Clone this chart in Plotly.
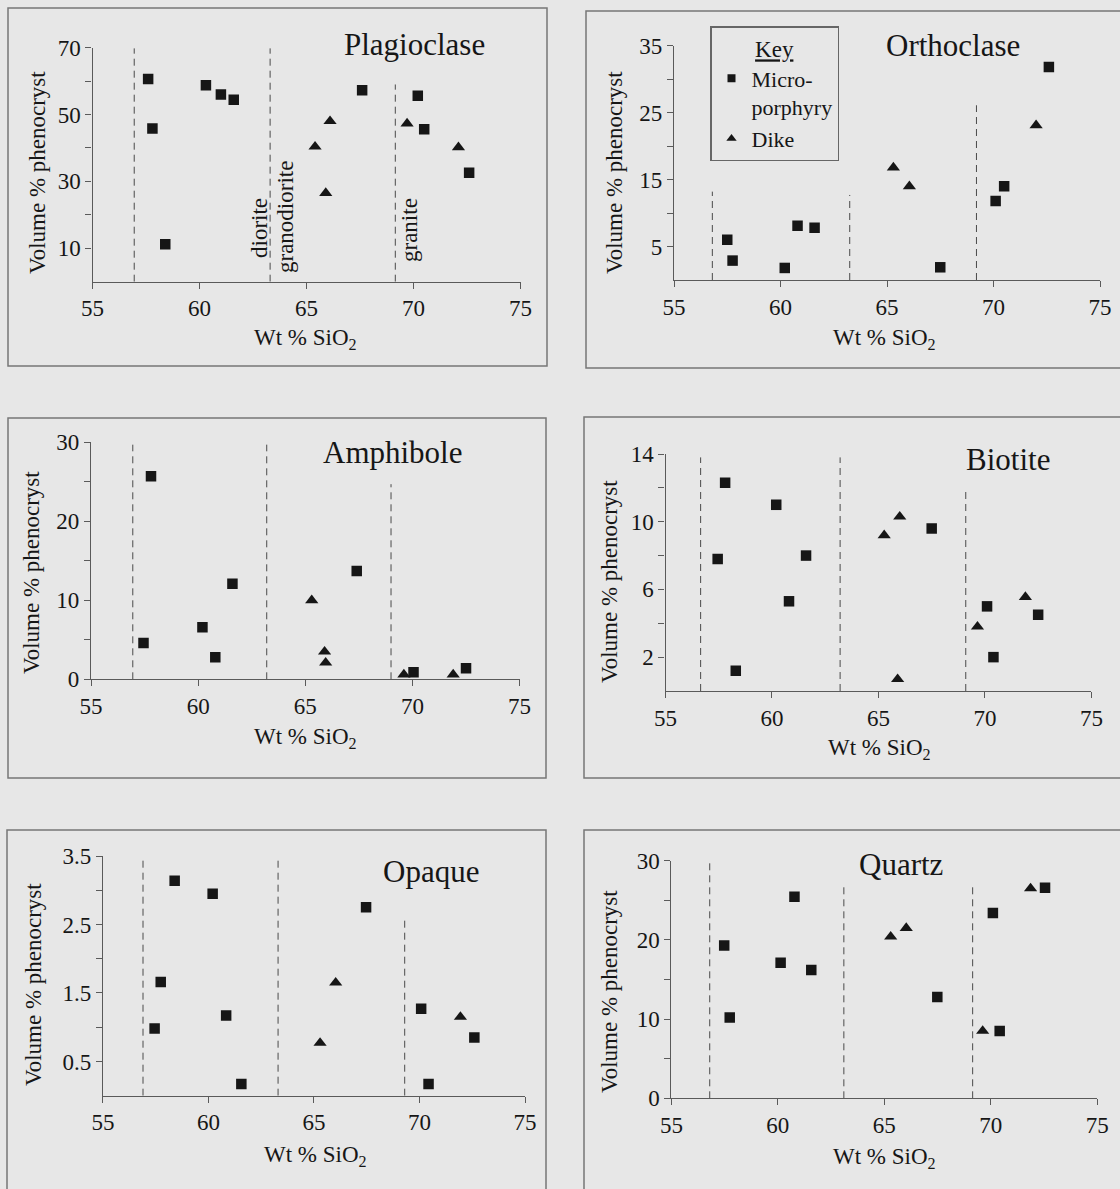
import plotly.graph_objects as go

W, H = 1120, 1189
FONT = "Liberation Serif"
INK = "#161616"
AXC = "#5a5a5a"
BG = "#e7e7e7"

# ---------------- data ----------------
plag_micro_sio2 = [57.6, 57.8, 58.4, 60.3, 61.0, 61.6, 67.6, 70.2, 70.5, 72.6]
plag_micro_vol = [60.6, 45.8, 11.2, 58.8, 56.0, 54.4, 57.3, 55.6, 45.6, 32.6]
plag_dike_sio2 = [65.4, 66.1, 65.9, 69.7, 72.1]
plag_dike_vol = [40.4, 48.0, 26.5, 47.3, 40.2]

orth_micro_sio2 = [57.5, 57.75, 60.2, 60.8, 61.6, 67.5, 70.1, 70.5, 72.6]
orth_micro_vol = [6.0, 2.9, 1.8, 8.1, 7.8, 1.9, 11.8, 14.0, 31.8]
orth_dike_sio2 = [65.3, 66.05, 72.0]
orth_dike_vol = [16.8, 14.0, 23.1]

amph_micro_sio2 = [57.45, 57.8, 60.2, 60.8, 61.6, 67.4, 70.05, 72.5]
amph_micro_vol = [4.6, 25.7, 6.6, 2.8, 12.1, 13.7, 0.9, 1.4]
amph_dike_sio2 = [65.3, 65.9, 65.95, 69.6, 71.9]
amph_dike_vol = [10.0, 3.5, 2.1, 0.6, 0.6]

biot_micro_sio2 = [57.45, 57.8, 58.3, 60.2, 60.8, 61.6, 67.5, 70.1, 70.4, 72.5]
biot_micro_vol = [7.8, 12.3, 1.2, 11.0, 5.3, 8.0, 9.6, 5.0, 2.0, 4.5]
biot_dike_sio2 = [65.27, 66.0, 65.9, 69.65, 71.9]
biot_dike_vol = [9.2, 10.3, 0.7, 3.8, 5.55]

opaq_micro_sio2 = [57.45, 57.74, 58.4, 60.2, 60.84, 61.56, 67.47, 70.08, 70.43, 72.6]
opaq_micro_vol = [0.98, 1.66, 3.14, 2.95, 1.17, 0.17, 2.75, 1.27, 0.17, 0.85]
opaq_dike_sio2 = [65.29, 66.03, 71.94]
opaq_dike_vol = [0.77, 1.65, 1.15]

qtz_micro_sio2 = [57.48, 57.74, 60.13, 60.78, 61.57, 67.49, 70.1, 70.42, 72.55]
qtz_micro_vol = [19.3, 10.2, 17.1, 25.45, 16.2, 12.8, 23.4, 8.5, 26.6]
qtz_dike_sio2 = [65.3, 66.03, 69.62, 71.87]
qtz_dike_vol = [20.4, 21.5, 8.5, 26.5]

# rock-type boundaries (dashed lines) and their top ends
plag_bounds = [56.95, 63.3, 69.15]
plag_bound_tops = [69.8, 69.8, 59.0]
orth_bounds = [56.8, 63.25, 69.2]
orth_bound_tops = [13.2, 12.7, 26.1]
amph_bounds = [56.95, 63.2, 69.0]
amph_bound_tops = [29.7, 29.7, 24.7]
biot_bounds = [56.65, 63.2, 69.1]
biot_bound_tops = [13.8, 13.8, 11.8]
opaq_bounds = [56.9, 63.3, 69.3]
opaq_bound_tops = [3.44, 3.45, 2.6]
qtz_bounds = [56.8, 63.1, 69.15]
qtz_bound_tops = [29.9, 27.1, 27.1]

x_ticks = [55, 60, 65, 70, 75]
plag_yticks = [10, 30, 50, 70]
plag_yminor = [20, 40, 60]
orth_yticks = [5, 15, 25, 35]
orth_yminor = [10, 20, 30]
amph_yticks = [0, 10, 20, 30]
amph_yminor = [5, 15, 25]
biot_yticks = [2, 6, 10, 14]
biot_yminor = [4, 8, 12]
opaq_yticks = [0.5, 1.5, 2.5, 3.5]
opaq_yminor = [1.0, 2.0, 3.0]
qtz_yticks = [0, 10, 20, 30]
qtz_yminor = [5, 15, 25]

minerals = ["Plagioclase", "Orthoclase", "Amphibole", "Biotite", "Opaque", "Quartz"]
region_names = ["diorite", "granodiorite", "granite"]

panels = [
    dict(name=minerals[0], mx=plag_micro_sio2, my=plag_micro_vol, dx=plag_dike_sio2, dy=plag_dike_vol,
         bounds=plag_bounds, tops=plag_bound_tops, yt=plag_yticks, ym=plag_yminor),
    dict(name=minerals[1], mx=orth_micro_sio2, my=orth_micro_vol, dx=orth_dike_sio2, dy=orth_dike_vol,
         bounds=orth_bounds, tops=orth_bound_tops, yt=orth_yticks, ym=orth_yminor),
    dict(name=minerals[2], mx=amph_micro_sio2, my=amph_micro_vol, dx=amph_dike_sio2, dy=amph_dike_vol,
         bounds=amph_bounds, tops=amph_bound_tops, yt=amph_yticks, ym=amph_yminor),
    dict(name=minerals[3], mx=biot_micro_sio2, my=biot_micro_vol, dx=biot_dike_sio2, dy=biot_dike_vol,
         bounds=biot_bounds, tops=biot_bound_tops, yt=biot_yticks, ym=biot_yminor),
    dict(name=minerals[4], mx=opaq_micro_sio2, my=opaq_micro_vol, dx=opaq_dike_sio2, dy=opaq_dike_vol,
         bounds=opaq_bounds, tops=opaq_bound_tops, yt=opaq_yticks, ym=opaq_yminor),
    dict(name=minerals[5], mx=qtz_micro_sio2, my=qtz_micro_vol, dx=qtz_dike_sio2, dy=qtz_dike_vol,
         bounds=qtz_bounds, tops=qtz_bound_tops, yt=qtz_yticks, ym=qtz_yminor),
]

# ---------------- layout geometry (pixels) ----------------
areas = [
    (92.5, 520.5, 47.7, 281.7),
    (674.0, 1100.0, 45.7, 280.0),
    (91.0, 519.6, 442.3, 679.3),
    (665.5, 1091.4, 454.0, 691.0),
    (102.9, 525.0, 856.0, 1095.7),
    (671.4, 1097.2, 860.7, 1098.3),
]
boxes = [
    (8, 8, 547, 366),
    (586, 11, 1125, 368),
    (8, 418, 546, 778),
    (584, 417, 1125, 778),
    (7, 830, 546, 1200),
    (584, 830, 1125, 1200),
]
ytitle_pos = [(37, 173), (614, 173), (31, 573), (609, 582), (33, 985), (609, 992)]
xtitle_pos = [(306, 339), (884, 339), (306, 738), (879, 749), (315, 1156), (884, 1158)]
name_pos = [(414, 44), (953, 45), (393, 452), (1008, 460), (431, 871), (901, 864)]
region_pos = [(259, 228), (286, 217), (410, 230)]


def fx(px):
    return px / W


def fy(py):
    return 1 - py / H


fig = go.Figure()
annotations = []
shapes = []
tickfont = dict(family=FONT, size=23, color=INK)
textfont = dict(family=FONT, size=23, color=INK)

for i, p in enumerate(panels):
    k = "" if i == 0 else str(i + 1)
    xa, ya = "x" + k, "y" + k
    x0, x1, yt_, yb_ = areas[i]
    ymax = p["yt"][-1]
    fig.update_layout(**{
        "xaxis" + k: dict(domain=[fx(x0), fx(x1)], range=[55, 75], anchor=ya,
                          tickmode="array", tickvals=x_ticks, ticks="outside", ticklen=6,
                          tickwidth=1, tickcolor=AXC, showline=True, linecolor=AXC,
                          linewidth=1.2, showgrid=False, zeroline=False, tickfont=tickfont,
                          automargin=False),
        "yaxis" + k: dict(domain=[fy(yb_), fy(yt_)], range=[0, ymax], anchor=xa,
                          tickmode="array", tickvals=p["yt"], ticks="outside", ticklen=6,
                          tickwidth=1, tickcolor=AXC, showline=True, linecolor=AXC,
                          linewidth=1.2, showgrid=False, zeroline=False, tickfont=tickfont,
                          automargin=False,
                          minor=dict(tickmode="array", tickvals=p["ym"], ticks="outside",
                                     ticklen=6, tickwidth=1, tickcolor=AXC, showgrid=False)),
    })
    for bx, top in zip(p["bounds"], p["tops"]):
        fig.add_trace(go.Scatter(x=[bx, bx], y=[0, top], mode="lines", xaxis=xa, yaxis=ya,
                                 line=dict(color="#4a4a4a", width=1, dash="7px,5px"),
                                 showlegend=False, hoverinfo="skip"))
    fig.add_trace(go.Scatter(x=p["mx"], y=p["my"], mode="markers", xaxis=xa, yaxis=ya,
                             marker=dict(symbol="square", size=10.5, color=INK),
                             name="Micro-<br>porphyry", showlegend=False))
    fig.add_trace(go.Scatter(x=p["dx"], y=p["dy"], mode="markers", xaxis=xa, yaxis=ya,
                             marker=dict(symbol="triangle-up", size=11.5, color=INK),
                             name="Dike", showlegend=False))
    bx0, by0, bx1, by1 = boxes[i]
    shapes.append(dict(type="rect", xref="paper", yref="paper", x0=fx(bx0), x1=fx(bx1),
                       y0=fy(by1), y1=fy(by0), line=dict(color="#777777", width=1.5)))
    annotations.append(dict(text="Volume % phenocryst", x=fx(ytitle_pos[i][0]), y=fy(ytitle_pos[i][1]),
                            xref="paper", yref="paper", showarrow=False, textangle=-90,
                            xanchor="center", yanchor="middle", font=textfont))
    annotations.append(dict(text="Wt % SiO<sub>2</sub>", x=fx(xtitle_pos[i][0]), y=fy(xtitle_pos[i][1]),
                            xref="paper", yref="paper", showarrow=False,
                            xanchor="center", yanchor="middle", font=textfont))
    annotations.append(dict(text=p["name"], x=fx(name_pos[i][0]), y=fy(name_pos[i][1]),
                            xref="paper", yref="paper", showarrow=False,
                            xanchor="center", yanchor="middle",
                            font=dict(family=FONT, size=31, color=INK)))

for name, (rx, ry) in zip(region_names, region_pos):
    annotations.append(dict(text=name, x=fx(rx), y=fy(ry), xref="paper", yref="paper",
                            showarrow=False, textangle=-90, xanchor="center", yanchor="middle",
                            font=textfont))

# legend-only entries
fig.add_trace(go.Scatter(x=[None], y=[None], mode="markers", xaxis="x2", yaxis="y2",
                         marker=dict(symbol="square", size=8, color=INK),
                         name="Micro-<br>porphyry", showlegend=True))
fig.add_trace(go.Scatter(x=[None], y=[None], mode="markers", xaxis="x2", yaxis="y2",
                         marker=dict(symbol="triangle-up", size=9, color=INK),
                         name="Dike", showlegend=True))

fig.update_layout(
    width=W, height=H, autosize=False,
    margin=dict(l=0, r=0, t=0, b=0, pad=0, autoexpand=False),
    paper_bgcolor=BG, plot_bgcolor="rgba(0,0,0,0)",
    font=dict(family=FONT, size=23, color=INK),
    showlegend=True,
    legend=dict(x=fx(710), y=fy(26), xanchor="left", yanchor="top",
                bgcolor="rgba(0,0,0,0)", bordercolor="#666666", borderwidth=1.5,
                font=dict(family=FONT, size=22, color=INK),
                title=dict(text="<u>Key</u>", side="top center", font=textfont),
                valign="top", itemwidth=30, tracegroupgap=0),
    annotations=annotations,
    shapes=shapes,
)

fig.write_html(
    "out.html",
    config={"displayModeBar": False, "responsive": False},
    post_script=("document.body.style.margin='0';document.body.style.padding='0';"
                 "document.body.style.overflow='hidden';"
                 "document.documentElement.style.background='%s';" % BG),
)
